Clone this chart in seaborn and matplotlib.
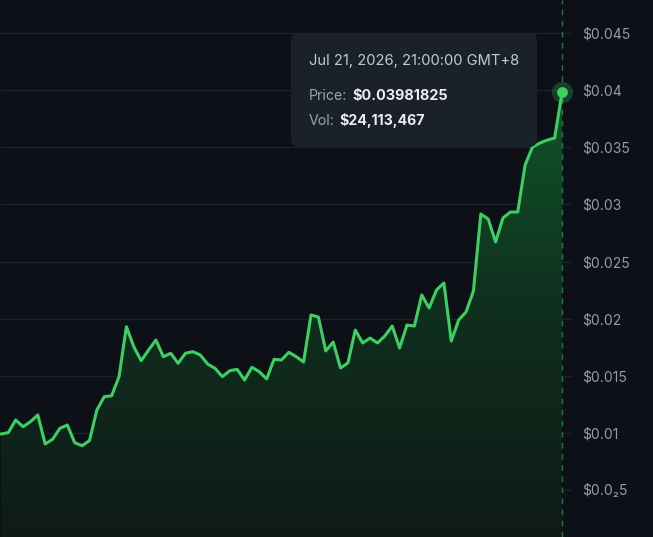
import numpy as np
import pandas as pd
import matplotlib
matplotlib.use("Agg")
import matplotlib.pyplot as plt
import matplotlib.dates as mdates
from matplotlib.patches import FancyBboxPatch
import seaborn as sns

# hourly prices (USD)
price = [0.00990, 0.01002, 0.01113, 0.01054, 0.01098, 0.01157, 0.00903, 0.00944,
         0.01040, 0.01069, 0.00914, 0.00888, 0.00932, 0.01200, 0.01317, 0.01325,
         0.01492, 0.01929, 0.01754, 0.01632, 0.01725, 0.01813, 0.01667, 0.01697,
         0.01609, 0.01697, 0.01711, 0.01682, 0.01603, 0.01565, 0.01492, 0.01544,
         0.01556, 0.01463, 0.01574, 0.01535, 0.01472, 0.01644, 0.01638, 0.01705,
         0.01667, 0.01620, 0.02032, 0.02014, 0.01717, 0.01795, 0.01568, 0.01612,
         0.01900, 0.01787, 0.01830, 0.01787, 0.01848, 0.01935, 0.01743, 0.01944,
         0.01935, 0.02207, 0.02093, 0.02251, 0.02312, 0.01804, 0.01988, 0.02058,
         0.02242, 0.02916, 0.02872, 0.02671, 0.02881, 0.02933, 0.02933, 0.03345,
         0.03502, 0.03537, 0.03563, 0.03581, 0.03981825]
last_time = "2026-07-21 21:00"
last_vol = 24113467
yticks = [0.005, 0.01, 0.015, 0.02, 0.025, 0.03, 0.035, 0.04, 0.045]
ylabels = ["$0.0\u20825", "$0.01", "$0.015", "$0.02", "$0.025", "$0.03",
           "$0.035", "$0.04", "$0.045"]

times = pd.date_range(end=last_time, periods=len(price), freq="h")
df = pd.DataFrame({"time": times, "price": price})

bg = "#0d1117"
green = "#3ccf62"

sns.set_theme(style="dark", rc={"axes.facecolor": bg, "figure.facecolor": bg})
plt.rcParams["font.family"] = ["Inter", "DejaVu Sans"]

fig = plt.figure(figsize=(6.53, 5.37), dpi=100)
ax = fig.add_axes([0, 0, 572 / 653, 1])
ax.set_facecolor(bg)

# gradient fill under the line
xnum = mdates.date2num(df["time"])
fill = ax.fill_between(df["time"], df["price"], 0, color="none", lw=0)
ylo, yhi = 0.000886, 0.04789
grad = np.linspace(0, 1, 256).reshape(-1, 1)
cmap = matplotlib.colors.LinearSegmentedColormap.from_list(
    "g", ["#0e1a16", "#10301f", "#0f5a2a"])
img = ax.imshow(grad, cmap=cmap, aspect="auto", origin="lower",
                extent=[xnum[0], xnum[-1], ylo, 0.042], zorder=1)
img.set_clip_path(fill.get_paths()[0], transform=ax.transData)

sns.lineplot(data=df, x="time", y="price", ax=ax, color=green, lw=2.2, zorder=3)

# hover marker + crosshair
ax.axvline(df["time"].iloc[-1], color="#1b7a43", lw=1, ls=(0, (4, 4)), zorder=2)
ax.scatter(df["time"].iloc[-1], df["price"].iloc[-1], s=230, color=green,
           alpha=0.25, lw=0, zorder=4)
ax.scatter(df["time"].iloc[-1], df["price"].iloc[-1], s=60, color=green,
           lw=0, zorder=5)

step = pd.Timedelta(hours=1)
ax.set_xlim(df["time"].iloc[0] - step * 0.12, df["time"].iloc[-1] + step * 1.35)
ax.set_ylim(ylo, yhi)

ax.yaxis.tick_right()
ax.set_yticks(yticks)
ax.set_yticklabels(ylabels)
ax.tick_params(axis="y", length=0, pad=7.2, labelsize=10, labelcolor="#929cab")
ax.set_xticks([])
ax.set_xlabel("")
ax.set_ylabel("")
ax.grid(axis="y", color="#1c232b", lw=0.9)
ax.grid(axis="x", visible=False)
for s in ax.spines.values():
    s.set_visible(False)

# tooltip box (inch coordinates)
tr = fig.dpi_scale_trans
box = FancyBboxPatch((2.91, 3.90), 2.46, 1.14, transform=tr,
                     boxstyle="round,pad=0,rounding_size=0.08",
                     fc="#1b212b", ec="none", zorder=10, clip_on=False)
ax.add_patch(box)
ax.text(3.09, 4.76, "Jul 21, 2026, 21:00:00 GMT+8", transform=tr,
        va="center", ha="left", fontsize=10.6, color="#c3cad3", zorder=11)
t1 = ax.text(3.09, 4.34, "Price:", transform=tr, va="bottom", ha="left",
             fontsize=10.2, color="#9aa3af", zorder=11)
ax.annotate("${:.8f}".format(price[-1]), xy=(1, 0), xycoords=t1,
            xytext=(3.5, 0), textcoords="offset points", va="bottom", ha="left",
            fontsize=10.4, fontweight="bold", color="#e8edf2", zorder=11,
            annotation_clip=False)
t2 = ax.text(3.09, 4.09, "Vol:", transform=tr, va="bottom", ha="left",
             fontsize=10.2, color="#9aa3af", zorder=11)
ax.annotate("${:,}".format(last_vol), xy=(1, 0), xycoords=t2,
            xytext=(3.5, 0), textcoords="offset points", va="bottom", ha="left",
            fontsize=10.2, fontweight="bold", color="#e8edf2", zorder=11,
            annotation_clip=False)

fig.savefig("out.png", dpi=100, facecolor=bg)
